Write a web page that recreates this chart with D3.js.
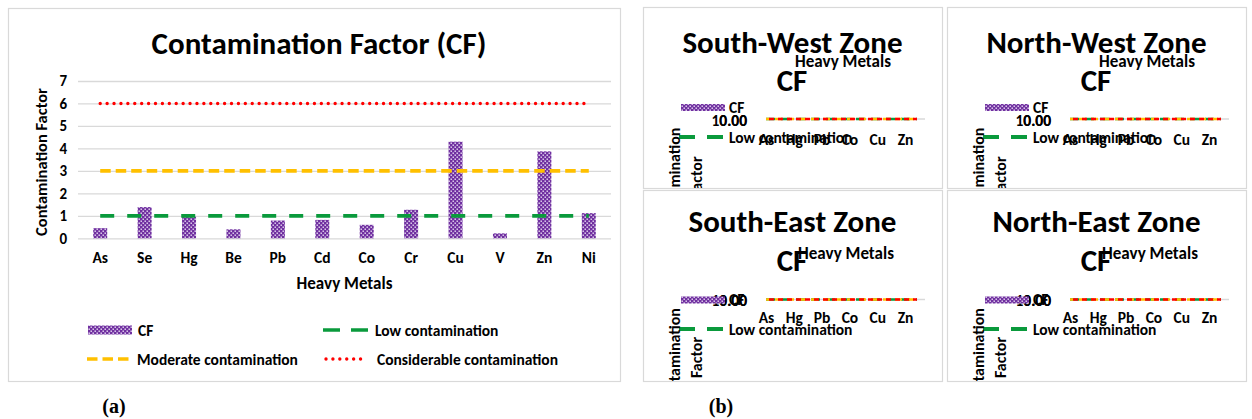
<!DOCTYPE html>
<html><head><meta charset="utf-8">
<script src="https://cdn.jsdelivr.net/npm/d3@7"></script>
<style>
html,body{margin:0;padding:0;background:#fff;}
svg{display:block;font-family:Carlito, Lato, "Open Sans", sans-serif;}
</style></head><body>
<svg id="chart" width="1252" height="419"></svg>
<script>
// ---- data ----
const metals = ["As","Se","Hg","Be","Pb","Cd","Co","Cr","Cu","V","Zn","Ni"];
const cfValues = [0.45,1.39,0.96,0.40,0.79,0.82,0.60,1.27,4.30,0.22,3.87,1.12];
const yTicks = [0,1,2,3,4,5,6,7];
const thresholdNames = ["Low contamination","Moderate contamination","Considerable contamination"];
const thresholdValues = [1,3,6];
const zoneNames = ["South-West Zone","North-West Zone","South-East Zone","North-East Zone"];
const zoneMetals = ["As","Hg","Pb","Co","Cu","Zn"];
const zoneTicks = [0,10];

// ---- styles ----
const PURPLE = "#7030a0";
const FONT = "Carlito, Lato, sans-serif";
const thresholdStyles = [
  {color:"#0a9a3c", dash:"14 13", width:3.6, cap:"butt"},
  {color:"#ffc000", dash:"10.5 5", width:3.6, cap:"butt"},
  {color:"#ff0000", dash:"0.01 6.9", width:3.4, cap:"round"}
];
const GRID = "#d9d9d9";

const svg = d3.select("#chart");
const defs = svg.append("defs");
const pat = defs.append("pattern").attr("id","dots")
  .attr("width",4).attr("height",4).attr("patternUnits","userSpaceOnUse");
pat.append("rect").attr("width",4).attr("height",4).attr("fill",PURPLE);
pat.append("rect").attr("x",0.5).attr("y",0.5).attr("width",1.4).attr("height",1.4).attr("fill","#efe6f8");
pat.append("rect").attr("x",2.5).attr("y",2.5).attr("width",1.4).attr("height",1.4).attr("fill","#efe6f8");

// ================= (a) overall contamination factor =================
const gA = svg.append("g");
gA.append("rect").attr("x",8.5).attr("y",8.5).attr("width",612).attr("height",373)
  .attr("fill","#fff").attr("stroke",GRID).attr("stroke-width",1.2);

gA.append("text").attr("x",319).attr("y",54).attr("text-anchor","middle")
  .attr("font-size",31).attr("font-weight","bold").attr("fill","#000")
  .text("Contamination Factor (CF)");

const x = d3.scaleBand().domain(metals).range([78,611]).paddingInner(0.685).paddingOuter(0.3425);
const y = d3.scaleLinear().domain([0,7]).range([238.3,81]);

const yAxis = gA.append("g").attr("transform","translate(78,0)")
  .call(d3.axisLeft(y).tickValues(yTicks).tickSize(-533).tickPadding(11).tickFormat(d3.format("d")));
yAxis.select(".domain").remove();
yAxis.selectAll(".tick line").attr("stroke",GRID).attr("stroke-width",1.3);
yAxis.selectAll(".tick text").attr("font-size",15).attr("font-weight","bold")
  .attr("fill","#000").attr("font-family",FONT);

const xAxis = gA.append("g").attr("transform","translate(0,238.3)")
  .call(d3.axisBottom(x).tickSize(0).tickPadding(14));
xAxis.select(".domain").remove();
xAxis.selectAll(".tick text").attr("font-size",15.5).attr("font-weight","bold")
  .attr("fill","#000").attr("font-family",FONT);

gA.append("g").selectAll("rect").data(metals).join("rect")
  .attr("x",d=>x(d)).attr("width",x.bandwidth())
  .attr("y",(d,i)=>y(cfValues[i])).attr("height",(d,i)=>y(0)-y(cfValues[i]))
  .attr("fill","url(#dots)");

const cx = d => x(d) + x.bandwidth()/2;
gA.append("g").selectAll("line").data(thresholdValues).join("line")
  .attr("x1",cx(metals[0])).attr("x2",cx(metals[metals.length-1]))
  .attr("y1",d=>y(d)).attr("y2",d=>y(d))
  .attr("stroke",(d,i)=>thresholdStyles[i].color)
  .attr("stroke-width",(d,i)=>thresholdStyles[i].width)
  .attr("stroke-dasharray",(d,i)=>thresholdStyles[i].dash)
  .attr("stroke-linecap",(d,i)=>thresholdStyles[i].cap);

gA.append("text").attr("transform","translate(47,162) rotate(-90)").attr("text-anchor","middle")
  .attr("font-size",16.5).attr("font-weight","bold").text("Contamination Factor");
gA.append("text").attr("x",344.5).attr("y",289).attr("text-anchor","middle")
  .attr("font-size",17).attr("font-weight","bold").text("Heavy Metals");

// legend
const legendItems = [
  {label:"CF", type:"bar", x:88, y:330},
  {label:thresholdNames[0], type:0, x:323, y:330},
  {label:thresholdNames[1], type:1, x:87, y:359},
  {label:thresholdNames[2], type:2, x:325, y:359}
];
const lg = gA.append("g").selectAll("g").data(legendItems).join("g");
lg.each(function(d){
  const g = d3.select(this);
  if(d.type==="bar"){
    g.append("rect").attr("x",d.x).attr("y",d.y-4.5).attr("width",44).attr("height",9).attr("fill","url(#dots)");
  } else {
    const s = thresholdStyles[d.type];
    const len = d.type===0 ? 45 : (d.type===1 ? 43 : 42);
    g.append("line").attr("x1",d.x+(d.type===2?1:0)).attr("x2",d.x+len).attr("y1",d.y).attr("y2",d.y)
      .attr("stroke",s.color).attr("stroke-width",s.width)
      .attr("stroke-dasharray", d.type===0 ? "17 11" : s.dash)
      .attr("stroke-linecap", s.cap);
  }
  g.append("text").attr("x",d.x + (d.type==="bar"||d.type===1 ? 50 : 52)).attr("y",d.y+5.5)
    .attr("font-size",15.5).attr("font-weight","bold").text(d.label);
});

// panel tags
svg.append("text").attr("x",114).attr("y",413).attr("text-anchor","middle")
  .attr("font-family","Liberation Serif, serif").attr("font-weight","bold").attr("font-size",20).text("(a)");
svg.append("text").attr("x",721).attr("y",413).attr("text-anchor","middle")
  .attr("font-family","Liberation Serif, serif").attr("font-weight","bold").attr("font-size",20).text("(b)");

// ================= (b) zone charts =================
const panels = [
  {x:643, y:7,   w:299, h:181, top:true},
  {x:947, y:7,   w:299, h:181, top:true},
  {x:643, y:190, w:299, h:191, top:false},
  {x:947, y:190, w:299, h:191, top:false}
];
const layoutTop = {title:46, cf:84, hm:60, hmX:200, sw:100.5, gy:112, lowY:130, xLab:138, yTitle:170};
const layoutBot = {title:42, cf:81, hm:69, hmX:203, sw:110, gy:109.5, lowY:139, xLab:133, yTitle:167.5};

zoneNames.forEach((name,k)=>{
  const p = panels[k];
  const L = p.top ? layoutTop : layoutBot;
  const clipId = "clip"+k;
  defs.append("clipPath").attr("id",clipId).append("rect")
    .attr("x",0).attr("y",0).attr("width",p.w).attr("height",p.h);
  const g = svg.append("g").attr("transform",`translate(${p.x},${p.y})`);
  g.append("rect").attr("x",0.5).attr("y",0.5).attr("width",p.w).attr("height",p.h)
    .attr("fill","#fff").attr("stroke",GRID).attr("stroke-width",1.2);
  const c = g.append("g").attr("clip-path",`url(#${clipId})`);

  c.append("text").attr("x",149.5).attr("y",L.title).attr("text-anchor","middle")
    .attr("font-size",31).attr("font-weight","bold").text(name);
  c.append("text").attr("x",149).attr("y",L.cf).attr("text-anchor","middle")
    .attr("font-size",31).attr("font-weight","bold").text("CF");
  c.append("text").attr("x",L.hmX).attr("y",L.hm).attr("text-anchor","middle")
    .attr("font-size",17).attr("font-weight","bold").text("Heavy Metals");

  // collapsed plot area: the value axis has no height
  const xz = d3.scalePoint().domain(zoneMetals).range([123,262]);
  const yz = d3.scaleLinear().domain([zoneTicks[0],zoneTicks[1]]).range([L.gy,L.gy]);

  c.append("line").attr("x1",123).attr("x2",282).attr("y1",L.gy).attr("y2",L.gy)
    .attr("stroke",GRID).attr("stroke-width",1.3);

  const ya = c.append("g").attr("transform","translate(112,0)")
    .call(d3.axisLeft(yz).tickValues(zoneTicks).tickSize(0).tickPadding(8).tickFormat(d3.format(".2f")));
  ya.select(".domain").remove();
  ya.selectAll(".tick text").attr("font-size",15.5).attr("font-weight","bold").attr("fill","#000")
    .attr("font-family",FONT).attr("dy","0.4em");

  const zs = [{d:"9 6",w:2.4},{d:"7 5",w:2.4},{d:"5 4",w:2.4}];
  c.append("g").selectAll("line").data(thresholdValues).join("line")
    .attr("x1",123).attr("x2",274).attr("y1",d=>yz(d)).attr("y2",d=>yz(d))
    .attr("stroke",(d,i)=>thresholdStyles[i].color)
    .attr("stroke-width",(d,i)=>zs[i].w)
    .attr("stroke-dasharray",(d,i)=>zs[i].d)
    .attr("stroke-dashoffset",(d,i)=>i*3);

  const xa = c.append("g").attr("transform",`translate(0,${L.xLab-15})`)
    .call(d3.axisBottom(xz).tickSize(0).tickPadding(4));
  xa.select(".domain").remove();
  xa.selectAll(".tick text").attr("font-size",15.5).attr("font-weight","bold").attr("fill","#000")
    .attr("font-family",FONT);

  // legend (overlapping the plot)
  c.append("rect").attr("x",38).attr("y",L.sw-3.5).attr("width",44).attr("height",7).attr("fill","url(#dots)");
  c.append("text").attr("x",86).attr("y",L.sw+5).attr("font-size",15.5).attr("font-weight","bold").text("CF");
  c.append("line").attr("x1",36).attr("x2",80).attr("y1",L.lowY).attr("y2",L.lowY)
    .attr("stroke",thresholdStyles[0].color).attr("stroke-width",3.8).attr("stroke-dasharray","16 12");
  c.append("text").attr("x",86).attr("y",L.lowY+5.5).attr("font-size",15.5).attr("font-weight","bold")
    .text(thresholdNames[0]);

  // value-axis title, two lines, cut by the panel edge
  const yt = c.append("text").attr("transform",`translate(0,${L.yTitle}) rotate(-90)`)
    .attr("text-anchor","middle").attr("font-size",16).attr("font-weight","bold");
  yt.append("tspan").attr("x",0).attr("y",37).text("Contamination");
  yt.append("tspan").attr("x",0).attr("y",59).text("Factor");
});
</script>
</body></html>
